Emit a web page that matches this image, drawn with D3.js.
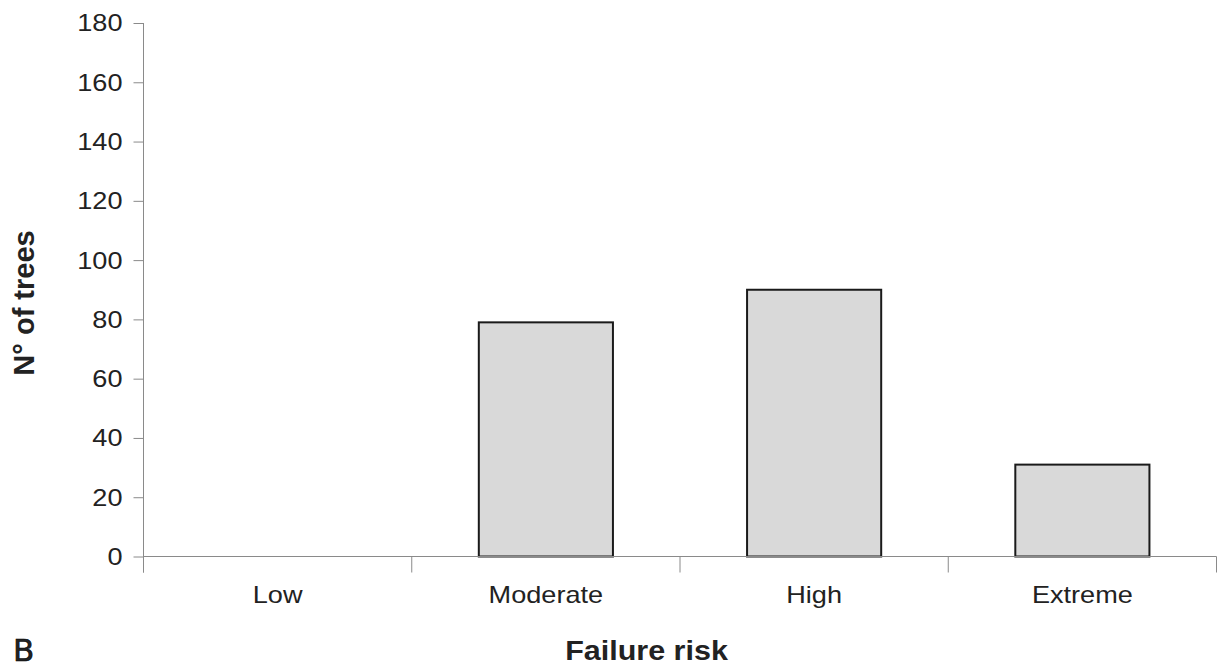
<!DOCTYPE html>
<html>
<head>
<meta charset="utf-8">
<script src="https://cdn.jsdelivr.net/npm/d3@7"></script>
<style>
  html, body { margin: 0; padding: 0; background: #fff; }
  svg { display: block; }
  text { font-family: "Liberation Sans", Arial, sans-serif; fill: #222; }
</style>
</head>
<body>
<svg id="chart" width="1219" height="668"></svg>
<script>
const categories = ["Low", "Moderate", "High", "Extreme"];
const values = [0, 79, 90, 31];
const yTicks = [0, 20, 40, 60, 80, 100, 120, 140, 160, 180];
const xTitle = "Failure risk";
const yTitle = "N° of trees";
const panelLabel = "B";

(function () {
const mLeft = 143.5, mRight = 1216.5, mTop = 23, mBottom = 556.5;
const sx = 1.13;

const svg = d3.select("#chart");

const x = d3.scaleBand().domain(categories).range([mLeft, mRight]).paddingInner(0).paddingOuter(0);
const y = d3.scaleLinear().domain([0, 180]).range([mBottom, mTop]);

// bars
svg.append("g").selectAll("rect").data(values).join("rect")
  .attr("x", (d, i) => x(categories[i]) + x.bandwidth() * 0.25)
  .attr("width", x.bandwidth() * 0.5)
  .attr("y", d => y(d))
  .attr("height", d => y(0) - y(d))
  .attr("fill", "#d9d9d9")
  .attr("stroke", "#1a1a1a")
  .attr("stroke-width", 2)
  .style("display", d => d > 0 ? null : "none");

// y axis
const gy = svg.append("g").attr("transform", `translate(${mLeft},0)`)
  .call(d3.axisLeft(y).tickValues(yTicks).tickSize(10).tickPadding(10).tickFormat(d3.format("d")));
gy.select(".domain").remove();
gy.selectAll(".tick line").attr("stroke", "#8a8a8a");
gy.selectAll(".tick text")
  .attr("font-size", 24)
  .attr("fill", "#222")
  .attr("x", -21 / sx)
  .attr("dy", "0.33em")
  .attr("transform", `scale(${sx},1)`)
  .style("font-family", '"Liberation Sans", Arial, sans-serif');

// y axis line (extends to bottom of x ticks)
svg.append("line")
  .attr("x1", mLeft).attr("x2", mLeft)
  .attr("y1", y(180)).attr("y2", mBottom + 16)
  .attr("stroke", "#8a8a8a").attr("stroke-width", 1);

// x axis line
svg.append("line")
  .attr("x1", mLeft).attr("x2", mRight)
  .attr("y1", y(0)).attr("y2", y(0))
  .attr("stroke", "#8a8a8a").attr("stroke-width", 1);

// x ticks at band boundaries
const bounds = categories.map(c => x(c)).concat([x(categories[categories.length - 1]) + x.bandwidth()]);
svg.append("g").selectAll("line").data(bounds).join("line")
  .attr("x1", d => d).attr("x2", d => d)
  .attr("y1", y(0)).attr("y2", y(0) + 16)
  .attr("stroke", "#8a8a8a").attr("stroke-width", 1);

// x labels
svg.append("g").selectAll("text").data(categories).join("text")
  .attr("transform", d => `translate(${x(d) + x.bandwidth() / 2},603) scale(${sx},1)`)
  .attr("text-anchor", "middle")
  .attr("font-size", 24)
  .text(d => d);

// x title
svg.append("text")
  .attr("transform", `translate(646.5,660) scale(1.09,1)`)
  .attr("text-anchor", "middle")
  .attr("font-size", 28)
  .attr("font-weight", "bold")
  .attr("fill", "#111")
  .text(xTitle);

// y title
svg.append("text")
  .attr("transform", `translate(34,303) rotate(-90)`)
  .attr("text-anchor", "middle")
  .attr("font-size", 29)
  .attr("font-weight", "bold")
  .attr("fill", "#111")
  .text(yTitle);

// panel label
svg.append("text")
  .attr("x", 13).attr("y", 661)
  .attr("font-size", 31)
  .attr("fill", "#000")
  .attr("stroke", "#000")
  .attr("stroke-width", 0.6)
  .style("font-family", '"DejaVu Sans", sans-serif')
  .text(panelLabel);
})();
</script>
</body>
</html>
